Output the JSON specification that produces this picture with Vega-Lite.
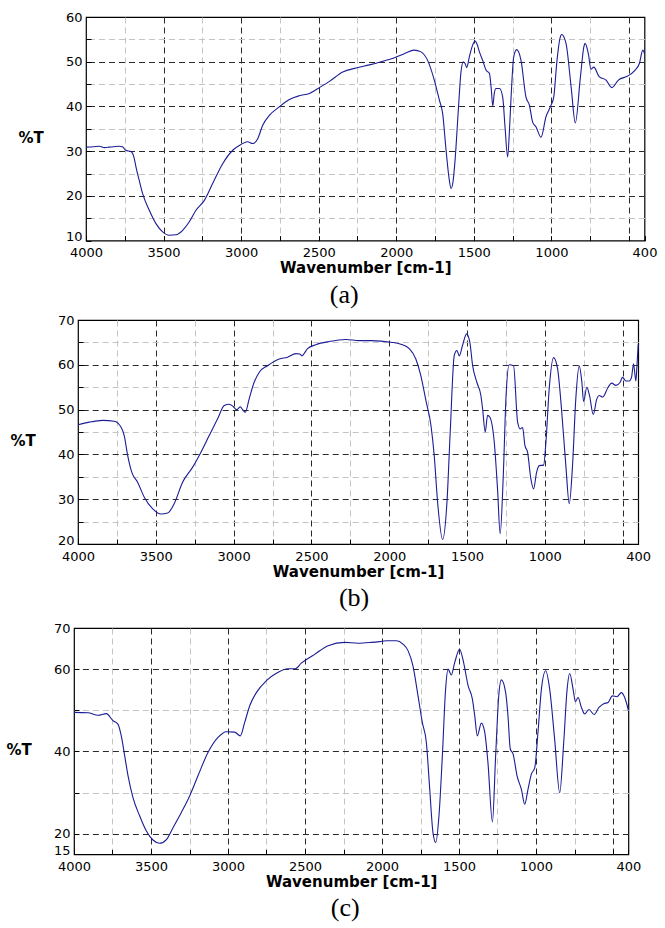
{
  "$schema": "https://vega.github.io/schema/vega-lite/v6.json",
  "padding": {"left": 5, "top": 10, "right": 0, "bottom": 0},
  "bounds": "flush",
  "align": "none",
  "spacing": 0,
  "datasets": {
    "a": [
      {"wn": 4000, "t": 30.9}, {"wn": 3950, "t": 31.0}, {"wn": 3914, "t": 31.1}, {"wn": 3880, "t": 30.8}, {"wn": 3850, "t": 30.9},
      {"wn": 3820, "t": 31.0}, {"wn": 3785, "t": 31.1}, {"wn": 3765, "t": 31.0}, {"wn": 3745, "t": 30.2}, {"wn": 3710, "t": 29.9},
      {"wn": 3690, "t": 28.5}, {"wn": 3678, "t": 26.5}, {"wn": 3655, "t": 23.2}, {"wn": 3635, "t": 20.5}, {"wn": 3592, "t": 16.8},
      {"wn": 3549, "t": 13.8}, {"wn": 3506, "t": 11.95}, {"wn": 3463, "t": 11.2}, {"wn": 3420, "t": 11.3}, {"wn": 3377, "t": 12.3},
      {"wn": 3334, "t": 14.2}, {"wn": 3291, "t": 16.8}, {"wn": 3237, "t": 19.0}, {"wn": 3183, "t": 22.8}, {"wn": 3119, "t": 27.2},
      {"wn": 3054, "t": 30.2}, {"wn": 3001, "t": 31.5}, {"wn": 2958, "t": 32.1}, {"wn": 2925, "t": 31.7}, {"wn": 2893, "t": 32.8},
      {"wn": 2861, "t": 35.8}, {"wn": 2818, "t": 38.0}, {"wn": 2754, "t": 39.9}, {"wn": 2689, "t": 41.55}, {"wn": 2625, "t": 42.4},
      {"wn": 2560, "t": 42.9}, {"wn": 2496, "t": 44.2}, {"wn": 2431, "t": 45.6}, {"wn": 2345, "t": 47.7}, {"wn": 2259, "t": 48.6},
      {"wn": 2173, "t": 49.3}, {"wn": 2098, "t": 50.0}, {"wn": 2012, "t": 50.9}, {"wn": 1948, "t": 51.8}, {"wn": 1884, "t": 52.6},
      {"wn": 1841, "t": 52.2}, {"wn": 1798, "t": 50.3}, {"wn": 1755, "t": 45.9}, {"wn": 1722, "t": 41.4}, {"wn": 1701, "t": 38.4},
      {"wn": 1679, "t": 30.2}, {"wn": 1660, "t": 24.0}, {"wn": 1647, "t": 21.65}, {"wn": 1635, "t": 23.0}, {"wn": 1621, "t": 28.0},
      {"wn": 1600, "t": 39.2}, {"wn": 1583, "t": 47.7}, {"wn": 1568, "t": 50.0}, {"wn": 1555, "t": 49.5}, {"wn": 1546, "t": 48.7},
      {"wn": 1529, "t": 51.1}, {"wn": 1510, "t": 53.5}, {"wn": 1492, "t": 54.6}, {"wn": 1478, "t": 53.8}, {"wn": 1464, "t": 52.2},
      {"wn": 1443, "t": 50.3}, {"wn": 1421, "t": 48.1}, {"wn": 1400, "t": 47.4}, {"wn": 1388, "t": 44.0}, {"wn": 1378, "t": 40.1},
      {"wn": 1368, "t": 43.0}, {"wn": 1357, "t": 44.0}, {"wn": 1335, "t": 44.0}, {"wn": 1314, "t": 42.1}, {"wn": 1299, "t": 35.4},
      {"wn": 1282, "t": 28.7}, {"wn": 1270, "t": 35.0}, {"wn": 1260, "t": 42.1}, {"wn": 1243, "t": 51.1}, {"wn": 1224, "t": 52.7},
      {"wn": 1196, "t": 50.3}, {"wn": 1164, "t": 42.1}, {"wn": 1142, "t": 40.3}, {"wn": 1121, "t": 36.5}, {"wn": 1099, "t": 35.4},
      {"wn": 1067, "t": 33.1}, {"wn": 1035, "t": 37.7}, {"wn": 1002, "t": 40.3}, {"wn": 985, "t": 42.1}, {"wn": 964, "t": 50.3},
      {"wn": 945, "t": 55.2}, {"wn": 934, "t": 56.1}, {"wn": 906, "t": 54.1}, {"wn": 873, "t": 44.4}, {"wn": 846, "t": 36.3},
      {"wn": 813, "t": 46.6}, {"wn": 790, "t": 53.5}, {"wn": 783, "t": 54.1}, {"wn": 762, "t": 51.8}, {"wn": 745, "t": 48.3},
      {"wn": 727, "t": 48.8}, {"wn": 691, "t": 46.6}, {"wn": 648, "t": 45.9}, {"wn": 611, "t": 44.2}, {"wn": 568, "t": 45.9},
      {"wn": 508, "t": 46.8}, {"wn": 465, "t": 47.95}, {"wn": 433, "t": 49.6}, {"wn": 411, "t": 52.6}, {"wn": 400, "t": 51.8}
    ],
    "b": [
      {"wn": 4000, "t": 46.6}, {"wn": 3928, "t": 47.2}, {"wn": 3842, "t": 47.6}, {"wn": 3767, "t": 47.4}, {"wn": 3724, "t": 46.1},
      {"wn": 3703, "t": 44.2}, {"wn": 3681, "t": 39.8}, {"wn": 3654, "t": 36.0}, {"wn": 3617, "t": 33.8}, {"wn": 3574, "t": 30.45},
      {"wn": 3521, "t": 27.9}, {"wn": 3467, "t": 26.7}, {"wn": 3424, "t": 26.9}, {"wn": 3382, "t": 29.0}, {"wn": 3328, "t": 33.8},
      {"wn": 3264, "t": 37.1}, {"wn": 3210, "t": 40.5}, {"wn": 3157, "t": 44.2}, {"wn": 3103, "t": 47.95}, {"wn": 3060, "t": 50.9},
      {"wn": 3028, "t": 51.2}, {"wn": 3003, "t": 50.7}, {"wn": 2981, "t": 50.0}, {"wn": 2957, "t": 50.6}, {"wn": 2942, "t": 50.0},
      {"wn": 2925, "t": 49.4}, {"wn": 2900, "t": 52.4}, {"wn": 2868, "t": 56.1}, {"wn": 2835, "t": 58.35}, {"wn": 2782, "t": 59.8},
      {"wn": 2707, "t": 61.3}, {"wn": 2653, "t": 61.7}, {"wn": 2600, "t": 62.5}, {"wn": 2575, "t": 62.4}, {"wn": 2561, "t": 62.0},
      {"wn": 2545, "t": 62.6}, {"wn": 2525, "t": 63.6}, {"wn": 2471, "t": 64.5}, {"wn": 2386, "t": 65.2}, {"wn": 2278, "t": 65.65},
      {"wn": 2193, "t": 65.4}, {"wn": 2118, "t": 65.4}, {"wn": 1989, "t": 65.05}, {"wn": 1925, "t": 64.6}, {"wn": 1871, "t": 63.6},
      {"wn": 1829, "t": 61.3}, {"wn": 1797, "t": 57.6}, {"wn": 1764, "t": 52.0}, {"wn": 1732, "t": 46.5}, {"wn": 1711, "t": 39.8},
      {"wn": 1689, "t": 29.3}, {"wn": 1657, "t": 21.0}, {"wn": 1629, "t": 29.3}, {"wn": 1608, "t": 45.0}, {"wn": 1582, "t": 62.1},
      {"wn": 1565, "t": 63.2}, {"wn": 1550, "t": 62.0}, {"wn": 1529, "t": 64.3}, {"wn": 1503, "t": 66.9}, {"wn": 1482, "t": 65.05},
      {"wn": 1464, "t": 59.8}, {"wn": 1437, "t": 56.1}, {"wn": 1411, "t": 53.15}, {"wn": 1400, "t": 50.2}, {"wn": 1383, "t": 45.0},
      {"wn": 1368, "t": 48.7}, {"wn": 1353, "t": 48.3}, {"wn": 1325, "t": 42.7}, {"wn": 1304, "t": 32.3}, {"wn": 1287, "t": 22.3},
      {"wn": 1267, "t": 35.3}, {"wn": 1250, "t": 52.4}, {"wn": 1229, "t": 60.0}, {"wn": 1201, "t": 59.8}, {"wn": 1175, "t": 47.2},
      {"wn": 1158, "t": 45.7}, {"wn": 1143, "t": 46.0}, {"wn": 1128, "t": 42.0}, {"wn": 1111, "t": 40.5}, {"wn": 1090, "t": 34.6},
      {"wn": 1072, "t": 32.3}, {"wn": 1053, "t": 36.0}, {"wn": 1036, "t": 37.5}, {"wn": 1008, "t": 37.6}, {"wn": 993, "t": 42.7},
      {"wn": 972, "t": 54.6}, {"wn": 944, "t": 61.6}, {"wn": 918, "t": 59.1}, {"wn": 893, "t": 50.2}, {"wn": 865, "t": 37.5},
      {"wn": 843, "t": 29.0}, {"wn": 822, "t": 37.5}, {"wn": 801, "t": 52.4}, {"wn": 779, "t": 59.7}, {"wn": 762, "t": 56.1},
      {"wn": 751, "t": 51.8}, {"wn": 730, "t": 55.0}, {"wn": 713, "t": 53.15}, {"wn": 689, "t": 48.9}, {"wn": 666, "t": 52.4},
      {"wn": 651, "t": 53.15}, {"wn": 629, "t": 52.8}, {"wn": 593, "t": 55.0}, {"wn": 571, "t": 55.9}, {"wn": 543, "t": 55.4},
      {"wn": 516, "t": 56.1}, {"wn": 501, "t": 57.2}, {"wn": 479, "t": 56.4}, {"wn": 458, "t": 56.4}, {"wn": 443, "t": 57.2},
      {"wn": 430, "t": 60.2}, {"wn": 415, "t": 56.4}, {"wn": 408, "t": 59.8}, {"wn": 400, "t": 64.5}
    ],
    "c": [
      {"wn": 4000, "t": 49.5}, {"wn": 3909, "t": 49.4}, {"wn": 3844, "t": 48.8}, {"wn": 3790, "t": 49.2}, {"wn": 3747, "t": 47.5},
      {"wn": 3714, "t": 46.6}, {"wn": 3693, "t": 43.8}, {"wn": 3671, "t": 39.0}, {"wn": 3649, "t": 34.1}, {"wn": 3617, "t": 28.8},
      {"wn": 3574, "t": 24.4}, {"wn": 3530, "t": 20.7}, {"wn": 3487, "t": 18.5}, {"wn": 3444, "t": 17.7}, {"wn": 3400, "t": 18.6},
      {"wn": 3357, "t": 21.5}, {"wn": 3303, "t": 25.2}, {"wn": 3249, "t": 29.2}, {"wn": 3195, "t": 34.1}, {"wn": 3130, "t": 39.75},
      {"wn": 3065, "t": 43.4}, {"wn": 3011, "t": 44.8}, {"wn": 2957, "t": 44.7}, {"wn": 2920, "t": 43.8}, {"wn": 2892, "t": 47.0},
      {"wn": 2859, "t": 51.1}, {"wn": 2816, "t": 54.3}, {"wn": 2751, "t": 57.2}, {"wn": 2686, "t": 59.0}, {"wn": 2610, "t": 60.1},
      {"wn": 2563, "t": 60.1}, {"wn": 2524, "t": 61.45}, {"wn": 2437, "t": 63.6}, {"wn": 2350, "t": 65.7}, {"wn": 2242, "t": 66.5},
      {"wn": 2156, "t": 66.3}, {"wn": 2069, "t": 66.5}, {"wn": 2015, "t": 66.7}, {"wn": 1972, "t": 66.9}, {"wn": 1907, "t": 66.9},
      {"wn": 1864, "t": 66.1}, {"wn": 1831, "t": 64.5}, {"wn": 1799, "t": 60.8}, {"wn": 1766, "t": 53.5}, {"wn": 1738, "t": 47.0},
      {"wn": 1712, "t": 42.2}, {"wn": 1690, "t": 30.8}, {"wn": 1669, "t": 20.3}, {"wn": 1651, "t": 17.9}, {"wn": 1630, "t": 24.4},
      {"wn": 1608, "t": 39.0}, {"wn": 1587, "t": 55.1}, {"wn": 1571, "t": 60.0}, {"wn": 1550, "t": 58.6}, {"wn": 1528, "t": 61.6},
      {"wn": 1496, "t": 64.85}, {"wn": 1470, "t": 61.6}, {"wn": 1441, "t": 56.0}, {"wn": 1413, "t": 52.7}, {"wn": 1398, "t": 48.7},
      {"wn": 1381, "t": 43.8}, {"wn": 1355, "t": 46.9}, {"wn": 1333, "t": 44.7}, {"wn": 1312, "t": 37.3}, {"wn": 1283, "t": 22.9},
      {"wn": 1262, "t": 39.0}, {"wn": 1242, "t": 53.5}, {"wn": 1225, "t": 57.4}, {"wn": 1197, "t": 54.3}, {"wn": 1182, "t": 48.7},
      {"wn": 1167, "t": 40.6}, {"wn": 1149, "t": 39.4}, {"wn": 1123, "t": 34.1}, {"wn": 1095, "t": 30.8}, {"wn": 1073, "t": 27.2},
      {"wn": 1052, "t": 30.8}, {"wn": 1030, "t": 34.5}, {"wn": 1008, "t": 36.1}, {"wn": 987, "t": 44.7}, {"wn": 965, "t": 55.1},
      {"wn": 937, "t": 59.6}, {"wn": 911, "t": 55.1}, {"wn": 879, "t": 43.0}, {"wn": 846, "t": 30.0}, {"wn": 820, "t": 42.2},
      {"wn": 798, "t": 55.1}, {"wn": 781, "t": 58.95}, {"wn": 759, "t": 55.1}, {"wn": 744, "t": 52.1}, {"wn": 727, "t": 53.1},
      {"wn": 705, "t": 50.7}, {"wn": 684, "t": 49.1}, {"wn": 656, "t": 50.2}, {"wn": 623, "t": 49.0}, {"wn": 591, "t": 50.7},
      {"wn": 560, "t": 51.6}, {"wn": 532, "t": 51.9}, {"wn": 504, "t": 53.5}, {"wn": 474, "t": 53.3}, {"wn": 446, "t": 54.3},
      {"wn": 424, "t": 53.1}, {"wn": 400, "t": 50.0}
    ]
  },
  "vconcat": [
    {
      "hconcat": [
        {"width": 12, "height": 1, "data": {"values": []}, "mark": {"type": "point", "opacity": 0}, "encoding": {}, "view": {"stroke": null}},
        {
          "width": 558.5, "height": 223.6,
          "data": {"name": "a"},
          "title": {"text": "(a)", "orient": "bottom", "frame": "group", "anchor": "middle", "dx": -21, "offset": 6},
          "mark": {"type": "line", "color": "#1c1c96", "strokeWidth": 1.1, "interpolate": "monotone"},
          "encoding": {
            "x": {"field": "wn", "type": "quantitative",
              "scale": {"domain": [400, 4000], "reverse": true, "nice": false, "zero": false},
              "axis": {"title": "Wavenumber [cm-1]", "format": "d",
                "values": [4000, 3750, 3500, 3250, 3000, 2750, 2500, 2250, 2000, 1750, 1500, 1250, 1000, 750, 500, 400],
                "labelExpr": "datum.value === 400 || (datum.value % 500 === 0 && datum.value >= 1000) ? datum.label : ''",
                "labelPadding": 11, "titlePadding": 1,
                "gridColor": {"condition": {"test": "datum.value % 500 === 0", "value": "#2a2a2a"}, "value": "#c4c4c4"},
                "gridOpacity": {"condition": {"test": "datum.value === 400 || datum.value === 4000", "value": 0}, "value": 1}}},
            "y": {"field": "t", "type": "quantitative",
              "scale": {"domain": [10, 60], "nice": false, "zero": false},
              "axis": {"title": "%T", "values": [10, 15, 20, 25, 30, 35, 40, 45, 50, 55, 60],
                "labelExpr": "datum.value % 10 === 0 ? datum.label : ''",
                "labelOffset": {"condition": {"test": "datum.value === 10", "value": -4}, "value": 0},
                "labelPadding": 9, "titleAngle": 0, "titleAlign": "left", "titleBaseline": "middle", "titleX": -68, "titleY": 120,
                "gridColor": {"condition": {"test": "datum.value % 10 === 0", "value": "#2a2a2a"}, "value": "#c4c4c4"},
                "gridOpacity": {"condition": {"test": "datum.value === 10 || datum.value === 60", "value": 0}, "value": 1}}},
            "order": {"field": "wn", "sort": "descending"}
          }
        }
      ],
      "spacing": 0, "bounds": "flush", "align": "none"
    },
    {"width": 1, "height": 302.7, "data": {"values": []}, "mark": {"type": "point", "opacity": 0}, "encoding": {}, "view": {"stroke": null}},
    {
      "hconcat": [
        {"width": 4, "height": 1, "data": {"values": []}, "mark": {"type": "point", "opacity": 0}, "encoding": {}, "view": {"stroke": null}},
        {
          "width": 560.2, "height": 224,
          "data": {"name": "b"},
          "title": {"text": "(b)", "orient": "bottom", "frame": "group", "anchor": "middle", "dx": -4, "offset": 6},
          "mark": {"type": "line", "color": "#1c1c96", "strokeWidth": 1.1, "interpolate": "monotone"},
          "encoding": {
            "x": {"field": "wn", "type": "quantitative",
              "scale": {"domain": [400, 4000], "reverse": true, "nice": false, "zero": false},
              "axis": {"title": "Wavenumber [cm-1]", "format": "d",
                "values": [4000, 3750, 3500, 3250, 3000, 2750, 2500, 2250, 2000, 1750, 1500, 1250, 1000, 750, 500, 400],
                "labelExpr": "datum.value === 400 || (datum.value % 500 === 0 && datum.value >= 1000) ? datum.label : ''",
                "labelPadding": 11, "titlePadding": 1,
                "gridColor": {"condition": {"test": "datum.value % 500 === 0", "value": "#2a2a2a"}, "value": "#c4c4c4"},
                "gridOpacity": {"condition": {"test": "datum.value === 400 || datum.value === 4000", "value": 0}, "value": 1}}},
            "y": {"field": "t", "type": "quantitative",
              "scale": {"domain": [20, 70], "nice": false, "zero": false},
              "axis": {"title": "%T", "values": [20, 25, 30, 35, 40, 45, 50, 55, 60, 65, 70],
                "labelExpr": "datum.value % 10 === 0 ? datum.label : ''",
                "labelOffset": {"condition": {"test": "datum.value === 20", "value": -4}, "value": 0},
                "labelPadding": 9, "titleAngle": 0, "titleAlign": "left", "titleBaseline": "middle", "titleX": -68, "titleY": 120,
                "gridColor": {"condition": {"test": "datum.value % 10 === 0", "value": "#2a2a2a"}, "value": "#c4c4c4"},
                "gridOpacity": {"condition": {"test": "datum.value === 20 || datum.value === 70", "value": 0}, "value": 1}}},
            "order": {"field": "wn", "sort": "descending"}
          }
        }
      ],
      "spacing": 0, "bounds": "flush", "align": "none"
    },
    {"width": 1, "height": 308, "data": {"values": []}, "mark": {"type": "point", "opacity": 0}, "encoding": {}, "view": {"stroke": null}},
    {
      "hconcat": [
        {
          "width": 554.4, "height": 226.4,
          "data": {"name": "c"},
          "title": {"text": "(c)", "orient": "bottom", "frame": "group", "anchor": "middle", "dx": -6, "offset": 6},
          "mark": {"type": "line", "color": "#1c1c96", "strokeWidth": 1.1, "interpolate": "monotone"},
          "encoding": {
            "x": {"field": "wn", "type": "quantitative",
              "scale": {"domain": [400, 4000], "reverse": true, "nice": false, "zero": false},
              "axis": {"title": "Wavenumber [cm-1]", "format": "d",
                "values": [4000, 3750, 3500, 3250, 3000, 2750, 2500, 2250, 2000, 1750, 1500, 1250, 1000, 750, 500, 400],
                "labelExpr": "datum.value === 400 || (datum.value % 500 === 0 && datum.value >= 1000) ? datum.label : ''",
                "labelPadding": 11, "titlePadding": 1,
                "gridColor": {"condition": {"test": "datum.value % 500 === 0", "value": "#2a2a2a"}, "value": "#c4c4c4"},
                "gridOpacity": {"condition": {"test": "datum.value === 400 || datum.value === 4000", "value": 0}, "value": 1}}},
            "y": {"field": "t", "type": "quantitative",
              "scale": {"domain": [15, 70], "nice": false, "zero": false},
              "axis": {"title": "%T", "values": [15, 20, 30, 40, 50, 60, 70],
                "labelExpr": "datum.value === 15 || datum.value === 70 || datum.value % 20 === 0 ? datum.label : ''",
                "labelOffset": {"condition": {"test": "datum.value === 15", "value": -4}, "value": 0},
                "labelPadding": 9, "titleAngle": 0, "titleAlign": "left", "titleBaseline": "middle", "titleX": -68, "titleY": 121,
                "gridColor": {"condition": {"test": "datum.value % 20 === 0", "value": "#2a2a2a"}, "value": "#c4c4c4"},
                "gridOpacity": {"condition": {"test": "datum.value === 15 || datum.value === 70", "value": 0}, "value": 1}}},
            "order": {"field": "wn", "sort": "descending"}
          }
        }
      ],
      "spacing": 0, "bounds": "flush", "align": "none"
    }
  ],
  "config": {
    "view": {"stroke": "#000", "strokeWidth": 1.2},
    "axis": {"labelFont": "DejaVu Sans", "labelFontSize": 13, "labelColor": "#000",
      "titleFont": "DejaVu Sans", "titleFontSize": 15, "titleFontWeight": "bold", "titleColor": "#000",
      "tickSize": -5, "tickColor": "#000", "tickWidth": 1, "domain": false,
      "grid": true, "gridDash": [6, 4], "gridWidth": 1,
      "labelOverlap": false, "labelFlush": false, "labelBound": false},
    "title": {"font": "Liberation Serif", "fontSize": 26, "fontWeight": "normal", "color": "#000"}
  }
}
